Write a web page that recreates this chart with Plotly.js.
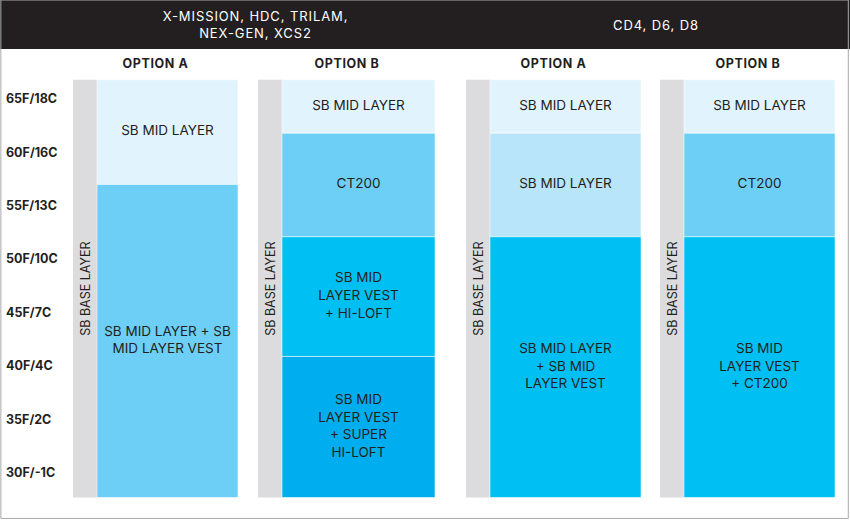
<!DOCTYPE html>
<html>
<head>
<meta charset="utf-8">
<script src="https://cdn.plot.ly/plotly-3.0.1.min.js"></script>
<style>
  html, body { margin: 0; padding: 0; background: #ffffff; }
  #chart { width: 850px; height: 520px; }
  /* the source chart uses wide, airy tracking on the header and option titles */
  #chart .annotation[data-index="0"] text,
  #chart .annotation[data-index="1"] text { letter-spacing: 0.9px; }
  #chart .annotation[data-index="2"] text,
  #chart .annotation[data-index="3"] text,
  #chart .annotation[data-index="4"] text,
  #chart .annotation[data-index="5"] text { letter-spacing: 0.6px; }
</style>
</head>
<body>
<div id="chart"></div>
<script>
// ── data ──────────────────────────────────────
const tempLabels = ['65F/18C', '60F/16C', '55F/13C', '50F/10C', '45F/7C', '40F/4C', '35F/2C', '30F/-1C'];
const tempF = [65, 60, 55, 50, 45, 40, 35, 30];

const groupTitles = ['X-MISSION, HDC, TRILAM,<br>NEX-GEN, XCS2', 'CD4, D6, D8'];
const optionTitles = ['OPTION A', 'OPTION B', 'OPTION A', 'OPTION B'];
const baseLayerLabel = 'SB BASE LAYER';

// comfort range covered by each column (deg F)
const rangeTop = 66.9;
const rangeBottom = 27.8;

// layers per column, warm end first: label, upper temp, lower temp
const col1Labels = ['SB MID LAYER', 'SB MID LAYER + SB<br>MID LAYER VEST'];
const col1Top = [66.9, 57.1];
const col1Bottom = [57.1, 27.8];

const col2Labels = ['SB MID LAYER', 'CT200', 'SB MID<br>LAYER VEST<br>+ HI-LOFT', 'SB MID<br>LAYER VEST<br>+ SUPER<br>HI-LOFT'];
const col2Top = [66.9, 61.9, 52.2, 41.0];
const col2Bottom = [61.9, 52.2, 41.0, 27.8];

const col3Labels = ['SB MID LAYER', 'SB MID LAYER', 'SB MID LAYER<br>+ SB MID<br>LAYER VEST'];
const col3Top = [66.9, 61.9, 52.2];
const col3Bottom = [61.9, 52.2, 27.8];

const col4Labels = ['SB MID LAYER', 'CT200', 'SB MID<br>LAYER VEST<br>+ CT200'];
const col4Top = [66.9, 61.9, 52.2];
const col4Bottom = [61.9, 52.2, 27.8];

// ── layout constants (pixels) ────────────────
const W = 850, H = 520;
const colLeft = [73, 258, 466, 660];
const colRight = [238, 435, 641, 835];
const stripW = 24;
const groupCenter = [255, 656];
const headerH = 49;

// y axis maps deg F onto the page: 65F at y=100px, 30F at y=474px
const pxPerF = (474 - 100) / 35;
const yMax = 65 + 100 / pxPerF;
const yMin = 65 - (H - 100) / pxPerF;

// ── styles ───────────────────────────────────
const C = {
    pale: '#e1f4fd',
    soft: '#b8e5f9',
    mid: '#6dcff6',
    bright: '#00bff3',
    deep: '#00aeef',
    strip: '#dcdcde',
    ink: '#231f20'
};
const colColors = [
    [C.pale, C.mid],
    [C.pale, C.mid, C.bright, C.deep],
    [C.pale, C.soft, C.bright],
    [C.pale, C.mid, C.bright]
];
const FONT = 'Inter, "Open Sans", sans-serif';

const columns = [
    { labels: col1Labels, top: col1Top, bottom: col1Bottom },
    { labels: col2Labels, top: col2Top, bottom: col2Bottom },
    { labels: col3Labels, top: col3Top, bottom: col3Bottom },
    { labels: col4Labels, top: col4Top, bottom: col4Bottom }
];

const traces = [];

columns.forEach((col, i) => {
    const stripX = colLeft[i] + stripW / 2;
    const blockL = colLeft[i] + stripW;
    const blockX = (blockL + colRight[i]) / 2;
    const blockW = colRight[i] - blockL;

    // grey base-layer strip
    traces.push({
        type: 'bar',
        x: [stripX],
        y: [rangeTop - rangeBottom],
        base: [rangeBottom],
        width: [stripW],
        marker: { color: C.strip, line: { width: 0 } },
        text: [baseLayerLabel],
        textposition: 'inside',
        insidetextanchor: 'middle',
        textangle: -90,
        textfont: { family: FONT, size: 12.5, color: C.ink },
        hoverinfo: 'skip'
    });

    // stacked layer blocks
    traces.push({
        type: 'bar',
        x: col.labels.map(() => blockX),
        y: col.top.map((t, k) => t - col.bottom[k]),
        base: col.bottom,
        width: col.labels.map(() => blockW),
        marker: {
            color: colColors[i],
            line: { color: 'rgba(255,255,255,0.55)', width: 1 }
        },
        hoverinfo: 'skip'
    });

    // layer names, centred in each block
    traces.push({
        type: 'scatter',
        mode: 'text',
        x: col.labels.map(() => blockX),
        y: col.top.map((t, k) => (t + col.bottom[k]) / 2),
        text: col.labels,
        textposition: 'middle center',
        textfont: { family: FONT, size: 13.5, color: C.ink },
        hoverinfo: 'skip'
    });
});

// temperature labels down the left edge
traces.push({
    type: 'scatter',
    mode: 'text',
    x: tempF.map(() => 6),
    y: tempF,
    text: tempLabels,
    textposition: 'middle right',
    textfont: { family: FONT, size: 12.5, color: C.ink, weight: 700 },
    hoverinfo: 'skip'
});

const annotations = [];
groupTitles.forEach((t, g) => {
    annotations.push({
        xref: 'x', yref: 'paper',
        x: groupCenter[g], y: 1 - (headerH / 2) / H,
        text: t,
        showarrow: false,
        xanchor: 'center', yanchor: 'middle',
        font: { family: FONT, size: 13, color: '#ffffff' }
    });
});
optionTitles.forEach((t, i) => {
    annotations.push({
        xref: 'x', yref: 'paper',
        x: (colLeft[i] + colRight[i]) / 2, y: 1 - 63 / H,
        text: t,
        showarrow: false,
        xanchor: 'center', yanchor: 'middle',
        font: { family: FONT, size: 12.5, color: C.ink, weight: 700 }
    });
});

const layout = {
    width: W,
    height: H,
    margin: { t: 0, r: 0, b: 0, l: 0 },
    paper_bgcolor: '#ffffff',
    plot_bgcolor: '#ffffff',
    showlegend: false,
    barmode: 'overlay',
    xaxis: { range: [0, W], visible: false, fixedrange: true },
    yaxis: { range: [yMin, yMax], visible: false, fixedrange: true },
    shapes: [
        {
            type: 'rect', xref: 'paper', yref: 'paper',
            x0: 0, x1: 1, y0: 1 - headerH / H, y1: 1,
            fillcolor: C.ink, line: { width: 0 }, layer: 'below'
        },
        {
            type: 'rect', xref: 'paper', yref: 'paper',
            x0: 0.001, x1: 0.998, y0: 0.003, y1: 1,
            fillcolor: 'rgba(0,0,0,0)', line: { color: '#a7a9ac', width: 1 }
        }
    ],
    annotations: annotations
};

Plotly.newPlot('chart', traces, layout, { displayModeBar: false, staticPlot: true });
</script>
</body>
</html>
